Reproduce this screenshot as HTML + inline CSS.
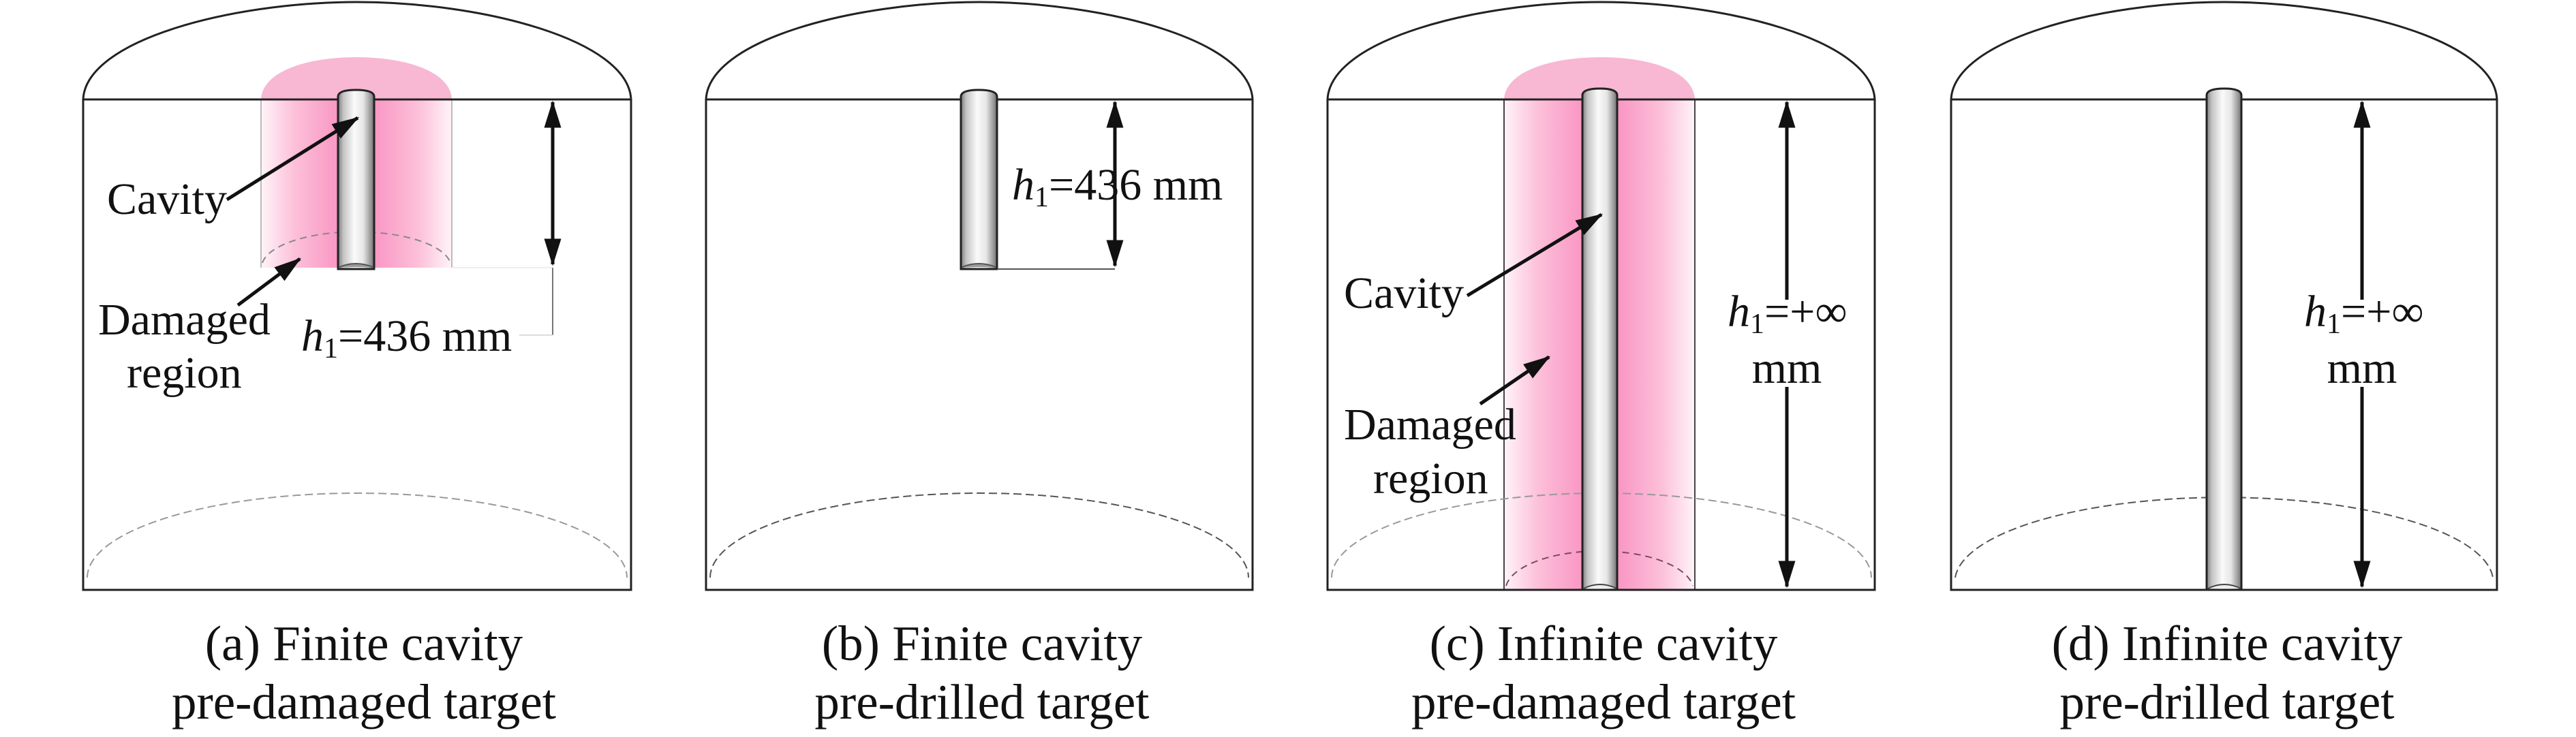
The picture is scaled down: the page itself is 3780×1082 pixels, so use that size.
<!DOCTYPE html>
<html><head><meta charset="utf-8"><style>
html,body{margin:0;padding:0;background:#fff;}
svg{display:block;}
text{font-family:"Liberation Serif","DejaVu Serif",serif;fill:#111;}
</style></head><body>
<svg width="3780" height="1082" viewBox="0 0 3780 1082" xmlns="http://www.w3.org/2000/svg">
<defs>
<linearGradient id="pinkL" x1="0" x2="1" y1="0" y2="0">
<stop offset="0" stop-color="#fff4f8"/><stop offset="0.35" stop-color="#fcc0d9"/><stop offset="1" stop-color="#f886bb"/>
</linearGradient>
<linearGradient id="pinkR" x1="0" x2="1" y1="0" y2="0">
<stop offset="0" stop-color="#f886bb"/><stop offset="0.65" stop-color="#fcc0d9"/><stop offset="1" stop-color="#fff4f8"/>
</linearGradient>
<linearGradient id="cyl" x1="0" x2="1" y1="0" y2="0">
<stop offset="0" stop-color="#7d7d7d"/><stop offset="0.15" stop-color="#c4c4c4"/><stop offset="0.45" stop-color="#fafafa"/><stop offset="0.7" stop-color="#e6e6e6"/><stop offset="0.9" stop-color="#9a9a9a"/><stop offset="1" stop-color="#6e6e6e"/>
</linearGradient>
<marker id="ah" viewBox="0 0 16 10" refX="15" refY="5" markerWidth="8" markerHeight="5" orient="auto-start-reverse" markerUnits="strokeWidth">
<path d="M0,0 L16,5 L0,10 Z" fill="#111"/>
</marker>
</defs>

<!-- ============ Panel a ============ -->
<g transform="translate(122,0)">
  <path d="M261,146 C263,104 330,84 401,84 C472,84 539,104 541,146 Z" fill="#f8b7d3"/>
  <rect x="261" y="146" width="140" height="247" fill="url(#pinkL)"/>
  <rect x="401" y="146" width="140" height="247" fill="url(#pinkR)"/>
  <line x1="261" y1="146" x2="261" y2="393" stroke="#bbb" stroke-width="2"/>
  <line x1="541" y1="146" x2="541" y2="393" stroke="#bbb" stroke-width="2"/>
  <path d="M263,386 A139,52 0 0 1 539,386" fill="none" stroke="#888" stroke-width="2" stroke-dasharray="10,7"/>
  <path d="M0,146 C4,58 220,3 402,3 C584,3 800,58 804,146" fill="none" stroke="#222" stroke-width="3"/>
  <rect x="0" y="146" width="804" height="720" fill="none" stroke="#222" stroke-width="3"/>
  <path d="M6,848 A396,124 0 0 1 798,848" fill="none" stroke="#999" stroke-width="2" stroke-dasharray="12,6"/>
  <path d="M374,395 L374,142 Q374,132 400,132 Q427,132 427,142 L427,395 Z" fill="url(#cyl)" stroke="#222" stroke-width="3"/>
  <path d="M376,392 Q400,382 425,392" fill="#999" stroke="#555" stroke-width="2"/>
  <line x1="689" y1="150" x2="689" y2="388" stroke="#111" stroke-width="5" marker-start="url(#ah)" marker-end="url(#ah)"/>
  <line x1="541" y1="393" x2="689" y2="393" stroke="#eee" stroke-width="2"/>
  <line x1="689" y1="393" x2="689" y2="492" stroke="#777" stroke-width="2"/>
  <line x1="640" y1="492" x2="689" y2="492" stroke="#ddd" stroke-width="2"/>
  <line x1="211" y1="293" x2="403" y2="173" stroke="#111" stroke-width="5" marker-end="url(#ah)"/>
  <line x1="227" y1="448" x2="318" y2="380" stroke="#111" stroke-width="5" marker-end="url(#ah)"/>
  <text x="35" y="314" font-size="66">Cavity</text>
  <text x="22" y="491" font-size="66">Damaged</text>
  <text x="64" y="569" font-size="66">region</text>
  <text x="320" y="515" font-size="66"><tspan font-style="italic">h</tspan><tspan font-size="42" dy="10">1</tspan><tspan dy="-10">=436 mm</tspan></text>
  <text x="412" y="969" font-size="73" text-anchor="middle">(a) Finite cavity</text>
  <text x="412" y="1055" font-size="73" text-anchor="middle">pre-damaged target</text>
</g>

<!-- ============ Panel b ============ -->
<g transform="translate(1036,0)">
  <path d="M0,146 C4,58 220,3 401,3 C582,3 798,58 802,146" fill="none" stroke="#222" stroke-width="3"/>
  <rect x="0" y="146" width="802" height="720" fill="none" stroke="#222" stroke-width="3"/>
  <path d="M6,848 A395,124 0 0 1 796,848" fill="none" stroke="#555" stroke-width="2" stroke-dasharray="12,6"/>
  <path d="M374,395 L374,142 Q374,132 400,132 Q427,132 427,142 L427,395 Z" fill="url(#cyl)" stroke="#222" stroke-width="3"/>
  <path d="M376,392 Q400,382 425,392" fill="#999" stroke="#555" stroke-width="2"/>
  <line x1="427" y1="395" x2="600" y2="395" stroke="#555" stroke-width="2"/>
  <line x1="600" y1="150" x2="600" y2="390" stroke="#111" stroke-width="5" marker-start="url(#ah)" marker-end="url(#ah)"/>
  <text x="449" y="293" font-size="66"><tspan font-style="italic">h</tspan><tspan font-size="42" dy="10">1</tspan><tspan dy="-10">=436 mm</tspan></text>
  <text x="405" y="969" font-size="73" text-anchor="middle">(b) Finite cavity</text>
  <text x="405" y="1055" font-size="73" text-anchor="middle">pre-drilled target</text>
</g>

<!-- ============ Panel c ============ -->
<g transform="translate(1948,0)">
  <path d="M259,146 C261,104 330,84 401,84 C472,84 537,104 539,146 Z" fill="#f8b7d3"/>
  <rect x="259" y="146" width="142" height="720" fill="url(#pinkL)"/>
  <rect x="401" y="146" width="138" height="720" fill="url(#pinkR)"/>
  <line x1="259" y1="146" x2="259" y2="866" stroke="#444" stroke-width="2"/>
  <line x1="539" y1="146" x2="539" y2="866" stroke="#444" stroke-width="2"/>
  <path d="M262,860 A138,58 0 0 1 536,860" fill="none" stroke="#7a4a60" stroke-width="2" stroke-dasharray="10,7"/>
  <path d="M0,146 C4,58 220,3 401,3 C582,3 799,58 803,146" fill="none" stroke="#222" stroke-width="3"/>
  <rect x="0" y="146" width="803" height="720" fill="none" stroke="#222" stroke-width="3"/>
  <path d="M6,848 A396,124 0 0 1 798,848" fill="none" stroke="#999" stroke-width="2" stroke-dasharray="12,6"/>
  <path d="M374,866 L374,140 Q374,130 400,130 Q425,130 425,140 L425,866 Z" fill="url(#cyl)" stroke="#222" stroke-width="3"/>
  <path d="M376,864 Q400,852 424,864" fill="#eee" stroke="#444" stroke-width="2"/>
  <line x1="674" y1="150" x2="674" y2="440" stroke="#111" stroke-width="5" marker-start="url(#ah)"/>
  <line x1="674" y1="568" x2="674" y2="861" stroke="#111" stroke-width="5" marker-end="url(#ah)"/>
  <line x1="205" y1="434" x2="402" y2="315" stroke="#111" stroke-width="5" marker-end="url(#ah)"/>
  <line x1="224" y1="593" x2="325" y2="524" stroke="#111" stroke-width="5" marker-end="url(#ah)"/>
  <text x="24" y="452" font-size="66">Cavity</text>
  <text x="24" y="645" font-size="66">Damaged</text>
  <text x="67" y="724" font-size="66">region</text>
  <text x="587" y="479" font-size="66"><tspan font-style="italic">h</tspan><tspan font-size="42" dy="10">1</tspan><tspan dy="-10">=+∞</tspan></text>
  <text x="674" y="562" font-size="66" text-anchor="middle">mm</text>
  <text x="405" y="969" font-size="73" text-anchor="middle">(c) Infinite cavity</text>
  <text x="405" y="1055" font-size="73" text-anchor="middle">pre-damaged target</text>
</g>

<!-- ============ Panel d ============ -->
<g transform="translate(2863,0)">
  <path d="M0,146 C4,58 220,3 401,3 C582,3 797,58 801,146" fill="none" stroke="#222" stroke-width="3"/>
  <rect x="0" y="146" width="801" height="720" fill="none" stroke="#222" stroke-width="3"/>
  <path d="M6,848 A395,124 0 0 1 795,848" fill="none" stroke="#555" stroke-width="2" stroke-dasharray="12,6"/>
  <path d="M375,866 L375,140 Q375,130 401,130 Q426,130 426,140 L426,866 Z" fill="url(#cyl)" stroke="#222" stroke-width="3"/>
  <path d="M377,864 Q401,852 425,864" fill="#eee" stroke="#444" stroke-width="2"/>
  <line x1="603" y1="150" x2="603" y2="440" stroke="#111" stroke-width="5" marker-start="url(#ah)"/>
  <line x1="603" y1="568" x2="603" y2="861" stroke="#111" stroke-width="5" marker-end="url(#ah)"/>
  <text x="518" y="479" font-size="66"><tspan font-style="italic">h</tspan><tspan font-size="42" dy="10">1</tspan><tspan dy="-10">=+∞</tspan></text>
  <text x="603" y="562" font-size="66" text-anchor="middle">mm</text>
  <text x="405" y="969" font-size="73" text-anchor="middle">(d) Infinite cavity</text>
  <text x="405" y="1055" font-size="73" text-anchor="middle">pre-drilled target</text>
</g>
</svg>
</body></html>
